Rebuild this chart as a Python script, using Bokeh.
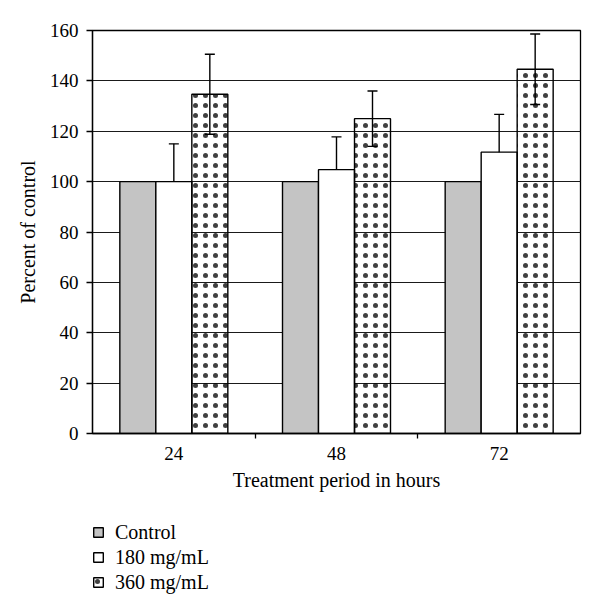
from bokeh.plotting import figure
from bokeh.layouts import column
from bokeh.models import (ColumnDataSource, Range1d, FixedTicker,
                          Whisker, TeeHead, Legend, LegendItem)
from bokeh.transform import dodge
from bokeh.embed import file_html
from bokeh.resources import INLINE

hours = ["24", "48", "72"]
series = ["Control", "180 mg/mL", "360 mg/mL"]
control = [100, 100, 100]
low_dose = [100, 104.75, 111.7]
low_err = [15, 13, 15]
high_dose = [134.7, 125, 144.6]
high_err = [15.9, 11, 14]
y_ticks = [0, 20, 40, 60, 80, 100, 120, 140, 160]

FONT = "Liberation Serif"
FS_TICK = "19px"
FS = "20px"
BW = 0.2213

centers = [i + 0.5 for i in range(len(hours))]
bounds = [float(i) for i in range(1, len(hours))]

src = ColumnDataSource(dict(
    xc=centers, control=control, low=low_dose, high=high_dose,
    low_up=[v + e for v, e in zip(low_dose, low_err)],
    low_lo=[v - e for v, e in zip(low_dose, low_err)],
    high_up=[v + e for v, e in zip(high_dose, high_err)],
    high_lo=[v - e for v, e in zip(high_dose, high_err)],
))

STYLES = [
    dict(fill_color="#c4c4c4", line_color="black", line_width=1.4),
    dict(fill_color="white", line_color="black", line_width=1.4),
    dict(fill_color="white", fill_alpha=0, line_color="black", line_width=1.4,
         hatch_pattern="dot", hatch_color="black", hatch_scale=10, hatch_weight=0.5,
         hatch_alpha=0.75),
]
BARS = [("control", -BW), ("low", 0), ("high", BW)]

p = figure(width=600, height=500, x_range=Range1d(0, len(hours)),
           y_range=Range1d(0, 160), output_backend="svg", toolbar_location=None,
           min_border_left=92, min_border_right=20,
           min_border_top=30, min_border_bottom=67)
p.background_fill_color = "white"
p.border_fill_color = "white"
p.outline_line_color = "black"
p.outline_line_width = 1.3

p.xgrid.visible = False
p.ygrid.grid_line_color = "#1a1a1a"
p.ygrid.grid_line_width = 1
p.ygrid.ticker = FixedTicker(ticks=y_ticks)

for (col, off), st in zip(BARS, STYLES):
    p.vbar(x=dodge("xc", off), top=col, width=BW, source=src, **st)

for base_off, up, lo in [(0, "low_up", "low_lo"), (BW, "high_up", "high_lo")]:
    w = Whisker(base=dodge("xc", base_off), upper=up, lower=lo, source=src,
                line_color="black", line_width=1.4,
                upper_head=TeeHead(size=10, line_color="black", line_width=1.4),
                lower_head=TeeHead(size=10, line_color="black", line_width=1.4))
    p.add_layout(w)

# y axis
yax = p.yaxis[0]
yax.ticker = FixedTicker(ticks=y_ticks)
yax.axis_line_color = "black"
yax.axis_line_width = 1.3
yax.major_tick_in = 0
yax.major_tick_out = 6
yax.major_tick_line_width = 1.3
yax.minor_tick_line_color = None
yax.major_label_text_font = FONT
yax.major_label_text_font_size = FS_TICK
yax.major_label_text_color = "black"
yax.major_label_standoff = 8
yax.axis_label = "Percent of control"
yax.axis_label_text_font = FONT
yax.axis_label_text_font_size = FS
yax.axis_label_text_font_style = "normal"
yax.axis_label_text_color = "black"
yax.axis_label_standoff = 8

# x axis: labels at group centres, tick marks at group boundaries
xax = p.xaxis[0]
xax.ticker = FixedTicker(ticks=centers, minor_ticks=bounds)
xax.major_label_overrides = {c: h for c, h in zip(centers, hours)}
xax.axis_line_color = "black"
xax.axis_line_width = 1.3
xax.major_tick_line_color = None
xax.major_tick_in = 0
xax.major_tick_out = 5
xax.minor_tick_line_color = "black"
xax.minor_tick_line_width = 1.3
xax.minor_tick_in = 0
xax.minor_tick_out = 5
xax.major_label_text_font = FONT
xax.major_label_text_font_size = FS_TICK
xax.major_label_text_color = "black"
xax.major_label_standoff = 8
xax.axis_label = "Treatment period in hours"
xax.axis_label_text_font = FONT
xax.axis_label_text_font_size = FS
xax.axis_label_text_font_style = "normal"
xax.axis_label_text_color = "black"
xax.axis_label_standoff = 6

# legend strip below the chart; swatch renderers are hidden copies of the bars
lg = figure(width=600, height=113, x_range=Range1d(0, len(hours)), y_range=Range1d(0, 160),
            output_backend="svg", toolbar_location=None,
            x_axis_location=None, y_axis_location=None,
            min_border_left=0, min_border_right=0, min_border_top=0, min_border_bottom=0)
lg.outline_line_color = None
lg.grid.visible = False
swatches = [lg.vbar(x=dodge("xc", off), top=col, width=BW, source=src, visible=False, **st)
            for (col, off), st in zip(BARS, STYLES)]

legend = Legend(items=[LegendItem(label=s, renderers=[r]) for s, r in zip(series, swatches)],
                location=(0, 19), orientation="vertical", click_policy="none",
                glyph_width=12, glyph_height=12, label_height=24, spacing=1,
                padding=0, margin=0, label_standoff=11,
                border_line_color=None, background_fill_alpha=0,
                label_text_font=FONT, label_text_font_size=FS, label_text_color="black")
lg.add_layout(legend, "center")

open("out.html", "w").write(file_html(column(p, lg, spacing=0), INLINE))
